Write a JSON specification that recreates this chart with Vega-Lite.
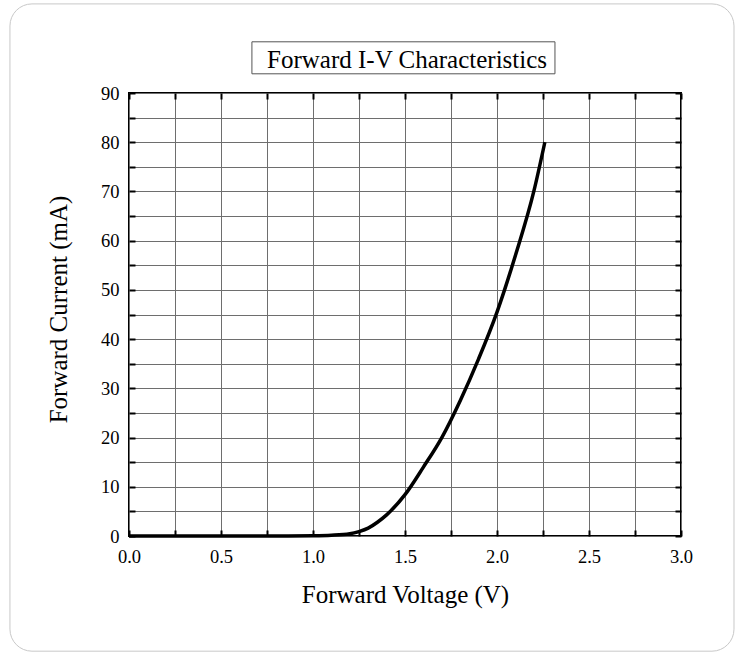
{
  "$schema": "https://vega.github.io/schema/vega-lite/v6.json",
  "width": 552,
  "height": 443,
  "autosize": {"type": "none"},
  "padding": {"left": 129, "top": 93, "right": 59, "bottom": 116},
  "background": "white",
  "config": {
    "view": {"stroke": "black", "strokeWidth": 2},
    "font": "Liberation Serif",
    "axis": {
      "labelFont": "Liberation Serif",
      "titleFont": "Liberation Serif",
      "labelColor": "black",
      "titleColor": "black",
      "labelFontSize": 18.5,
      "titleFontSize": 25,
      "titleFontWeight": "normal",
      "domain": false,
      "gridColor": "#6e6e6e",
      "gridWidth": 1,
      "gridOpacity": 1,
      "tickColor": "black",
      "tickWidth": 2,
      "tickSize": -6,
      "labelOverlap": false,
      "labelFlush": false
    }
  },
  "data": {
    "values": [
      {"v": 0.0, "i": 0.0},
      {"v": 0.5, "i": 0.0},
      {"v": 0.8, "i": 0.0},
      {"v": 1.0, "i": 0.05},
      {"v": 1.1, "i": 0.15},
      {"v": 1.2, "i": 0.45},
      {"v": 1.25, "i": 0.9},
      {"v": 1.3, "i": 1.6},
      {"v": 1.35, "i": 2.8},
      {"v": 1.4, "i": 4.3},
      {"v": 1.5, "i": 8.4},
      {"v": 1.6, "i": 14.0},
      {"v": 1.7, "i": 20.0},
      {"v": 1.8, "i": 27.5},
      {"v": 1.9, "i": 36.0},
      {"v": 2.0, "i": 45.5},
      {"v": 2.1, "i": 57.0},
      {"v": 2.2, "i": 70.0},
      {"v": 2.26, "i": 80.0}
    ]
  },
  "resolve": {"axis": {"x": "independent", "y": "independent"}},
  "layer": [
    {
      "data": {"values": [{}]},
      "mark": {"type": "rect", "fill": null, "filled": false, "stroke": "#c8c8c8", "strokeWidth": 1, "cornerRadius": 22, "clip": false},
      "encoding": {
        "x": {"datum": -0.647, "type": "quantitative", "scale": {"domain": [0, 3], "nice": false}, "axis": null},
        "x2": {"datum": 3.288},
        "y": {"datum": 108.1, "type": "quantitative", "scale": {"domain": [0, 90], "nice": false}, "axis": null},
        "y2": {"datum": -23.4}
      }
    },
    {
      "data": {"values": [{}]},
      "mark": {"type": "rect", "fill": "white", "stroke": "#555555", "strokeWidth": 1, "clip": false},
      "encoding": {
        "x": {"datum": 0.668, "type": "quantitative", "axis": null},
        "x2": {"datum": 2.315},
        "y": {"datum": 100.4, "type": "quantitative", "axis": null},
        "y2": {"datum": 93.9}
      }
    },
    {
      "data": {"values": [{"title": "Forward I-V Characteristics"}]},
      "mark": {"type": "text", "font": "Liberation Serif", "fontSize": 25, "fill": "black", "align": "center", "baseline": "alphabetic", "clip": false},
      "encoding": {
        "x": {"datum": 1.511, "type": "quantitative", "axis": null},
        "y": {"datum": 95.0, "type": "quantitative", "axis": null},
        "text": {"field": "title"}
      }
    },
    {
      "mark": {"type": "line", "strokeOpacity": 0},
      "encoding": {
        "x": {
          "field": "v", "type": "quantitative",
          "axis": {
            "orient": "top", "title": null, "labels": false, "grid": false,
            "values": [0, 0.25, 0.5, 0.75, 1, 1.25, 1.5, 1.75, 2, 2.25, 2.5, 2.75, 3]
          }
        },
        "y": {
          "field": "i", "type": "quantitative",
          "axis": {
            "orient": "right", "title": null, "labels": false, "grid": false,
            "values": [0, 5, 10, 15, 20, 25, 30, 35, 40, 45, 50, 55, 60, 65, 70, 75, 80, 85, 90]
          }
        }
      }
    },
    {
      "mark": {"type": "line", "color": "black", "strokeWidth": 3.5, "interpolate": "monotone"},
      "encoding": {
        "x": {
          "field": "v", "type": "quantitative",
          "axis": {
            "orient": "bottom",
            "title": "Forward Voltage (V)",
            "values": [0, 0.25, 0.5, 0.75, 1, 1.25, 1.5, 1.75, 2, 2.25, 2.5, 2.75, 3],
            "format": ".1f",
            "labelExpr": "round(datum.value*100) % 50 === 0 ? datum.label : ''",
            "grid": true,
            "labelPadding": 17.5,
            "titlePadding": 16
          }
        },
        "y": {
          "field": "i", "type": "quantitative",
          "axis": {
            "orient": "left",
            "title": "Forward Current (mA)",
            "values": [0, 5, 10, 15, 20, 25, 30, 35, 40, 45, 50, 55, 60, 65, 70, 75, 80, 85, 90],
            "labelExpr": "datum.value % 10 === 0 ? datum.label : ''",
            "grid": true,
            "labelPadding": 16,
            "titlePadding": 29,
            "titleY": 216
          }
        }
      }
    }
  ]
}
